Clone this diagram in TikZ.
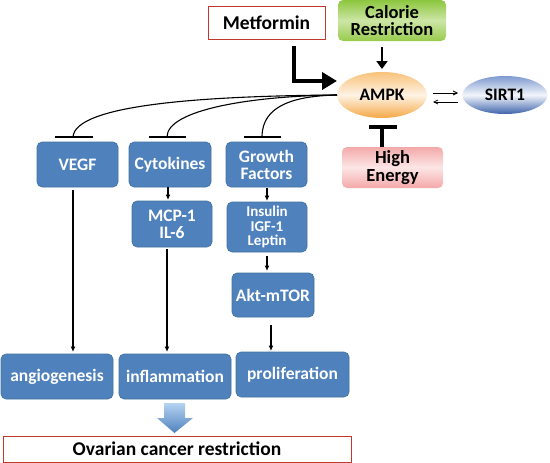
\documentclass[tikz,border=0pt]{standalone}
\usepackage{fontspec}
\setmainfont{Carlito}
\usetikzlibrary{arrows.meta,shapes.geometric}
\definecolor{boxblue}{HTML}{4F81BD}
\definecolor{boxedge}{HTML}{41719C}
\definecolor{redline}{HTML}{C0392B}
\definecolor{gtop}{HTML}{8CC63F}
\definecolor{gmid}{HTML}{CDE6A6}
\definecolor{gbot}{HTML}{98CB4C}
\definecolor{otop}{HTML}{F8C27A}
\definecolor{omid}{HTML}{FEF3E4}
\definecolor{obot}{HTML}{F5A847}
\definecolor{stop}{HTML}{7E9AD0}
\definecolor{smid}{HTML}{F2F5FB}
\definecolor{sbot}{HTML}{3D63AA}
\definecolor{ptop}{HTML}{F3A9A9}
\definecolor{pmid}{HTML}{FDE6E6}
\definecolor{pbot}{HTML}{F4A8A8}
\definecolor{atop}{HTML}{B5D3F2}
\tikzset{
  bbox/.style={draw=boxedge,fill=boxblue,rounded corners=5pt,text=white,font=\bfseries\fontsize{17.5}{17}\selectfont,align=center,inner sep=0pt,line width=0.6pt},
  redbox/.style={draw=redline,fill=white,line width=1pt,inner sep=0pt,align=center},
  thinarr/.style={-{Latex[length=5.5pt,width=5pt]},line width=1.2pt},
  inhib/.style={line width=1.1pt},
  bigfont/.style={font=\bfseries\fontsize{18.5}{17.5}\selectfont},
}
\begin{document}
\begin{tikzpicture}[x=1pt,y=-1pt]
\useasboundingbox (0,0) rectangle (550,463);
% top inputs
\node[redbox,minimum width=117pt,minimum height=33pt,font=\bfseries\fontsize{19.5}{20}\selectfont] (met) at (266.5,23) {Metformin};
\node[draw=none,rounded corners=5pt,top color=gtop,bottom color=gbot,middle color=gmid,minimum width=108pt,minimum height=41pt,inner sep=0pt,align=center,bigfont] (cal) at (392,20.5) {Calorie\\Restriction};
\node[ellipse,draw=none,top color=otop,bottom color=obot,middle color=omid,minimum width=90pt,minimum height=46pt,inner sep=0pt,font=\bfseries\fontsize{17.5}{17}\selectfont] (ampk) at (382,95) {AMPK};
\node[ellipse,draw=none,top color=stop,bottom color=sbot,middle color=smid,minimum width=85pt,minimum height=38pt,inner sep=0pt,font=\bfseries\fontsize{17.5}{17}\selectfont] (sirt) at (505,95) {SIRT1};
\node[draw=none,rounded corners=5pt,top color=ptop,bottom color=pbot,middle color=pmid,minimum width=101pt,minimum height=41pt,inner sep=0pt,align=center,bigfont] (high) at (392.5,167.5) {High\\Energy};
% arrows into AMPK
\coordinate (metc) at (294,46);
\coordinate (metk) at (294,81);
\coordinate (meth) at (337,81);
\draw[line width=4pt,-{Triangle[length=15pt,width=17pt]}] (metc) -- (metk) -- (meth);
\coordinate (calc) at (382,47);
\coordinate (calh) at (382,69);
\draw[line width=2.5pt,-{Triangle[length=8pt,width=11pt]}] (calc) -- (calh);
\coordinate (hiB) at (382,147);
\coordinate (hiT) at (382,127);
\draw[line width=4pt] (hiB) -- (hiT);
\draw[line width=4pt] (369,127) -- (397,127);
% AMPK-SIRT1
\coordinate (a1) at (433,93); \coordinate (s1) at (458,93);
\coordinate (a2) at (433,102); \coordinate (s2) at (458,102);
\draw[-{Straight Barb[length=4pt,width=4pt]},line width=0.8pt] (a1) -- (s1);
\draw[-{Straight Barb[length=4pt,width=4pt]},line width=0.8pt] (s2) -- (a2);
% first row boxes
\node[bbox,minimum width=81pt,minimum height=45pt] (vegf) at (77.5,164.5) {VEGF};
\node[bbox,minimum width=82pt,minimum height=45pt] (cyto) at (170,164.5) {Cytokines};
\node[bbox,minimum width=81pt,minimum height=45pt] (grow) at (266.5,164.5) {Growth\\Factors};
% inhibition bars
\coordinate (bv) at (73,137); \coordinate (bc) at (167,137); \coordinate (bg) at (262,137);
\coordinate (src) at (337,95);
\draw[inhib] (src) .. controls (200,96) and (75,105) .. (bv);
\draw[inhib] (src) .. controls (250,96) and (167,110) .. (bc);
\draw[inhib] (src) .. controls (295,96) and (262,105) .. (bg);
\draw[line width=2.5pt] (55,137) -- (93,137);
\draw[line width=2.5pt] (149,137) -- (186,137);
\draw[line width=2.5pt] (244,137) -- (281,137);
% second row
\node[bbox,minimum width=80pt,minimum height=46pt] (mcp) at (172,224) {MCP-1\\IL-6};
\node[bbox,minimum width=80pt,minimum height=50pt,font=\bfseries\fontsize{15}{14.5}\selectfont] (ins) at (267,227) {Insulin\\IGF-1\\Leptin};
\node[bbox,minimum width=82pt,minimum height=44pt] (akt) at (273,295) {Akt-mTOR};
% bottom row
\node[bbox,minimum width=112pt,minimum height=45pt] (ang) at (57,376.5) {angiogenesis};
\node[bbox,minimum width=112pt,minimum height=45pt] (infl) at (175,376.5) {inflammation};
\node[bbox,minimum width=113pt,minimum height=45pt] (prol) at (292.5,374.5) {proliferation};
% small arrows
\draw[thinarr] (168,187) -- (168,200);
\draw[thinarr] (267,188) -- (267,201);
\draw[thinarr] (267,256) -- (267,271);
\draw[thinarr] (271,325) -- (271,351);
\draw[thinarr] (73,190) -- (73,352);
\draw[thinarr] (167,249) -- (167,352);
% big arrow
\shade[top color=atop,bottom color=boxblue] (164,403) -- (185,403) -- (185,418) -- (193,418) -- (174.5,433) -- (157,418) -- (164,418) -- cycle;
% ovarian
\node[redbox,minimum width=348pt,minimum height=26pt,font=\bfseries\fontsize{19.5}{19}\selectfont] (ov) at (177,449) {Ovarian cancer restriction};
\end{tikzpicture}
\end{document}
